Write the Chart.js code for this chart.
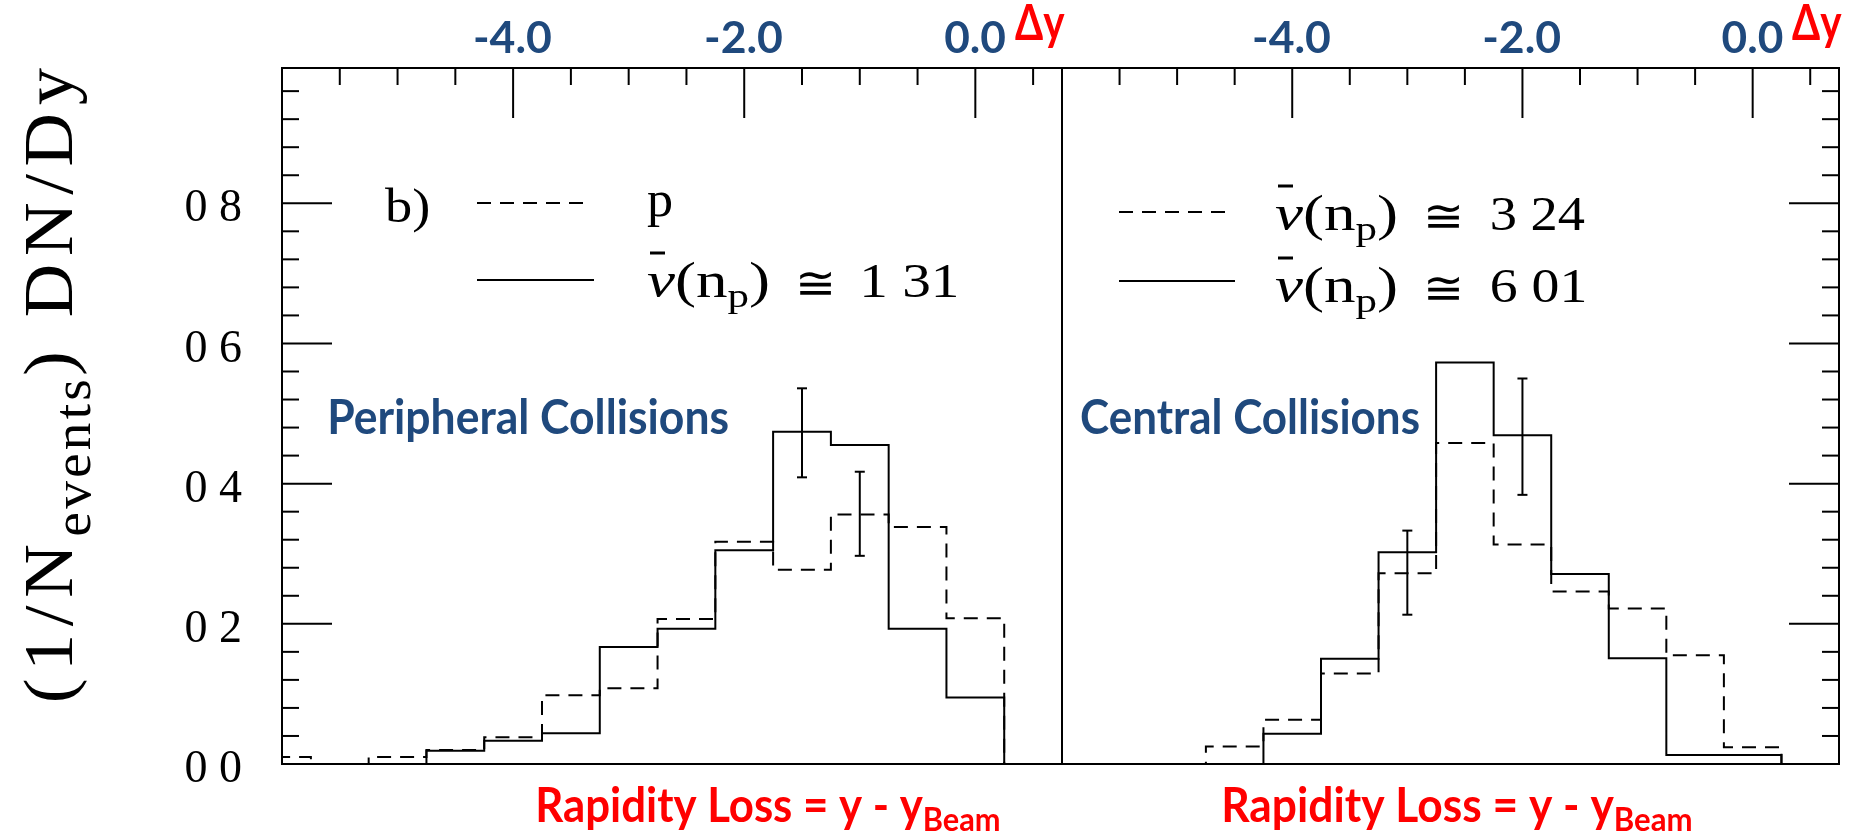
<!DOCTYPE html>
<html>
<head>
<meta charset="utf-8">
<script src="https://cdn.jsdelivr.net/npm/chart.js@4.4.1/dist/chart.umd.min.js"></script>
<style>
  html, body { margin: 0; padding: 0; background: #fff; }
  #wrap { position: relative; width: 1854px; height: 835px; overflow: hidden; background: #fff; }
  #wrap canvas { position: absolute; left: 0; top: 0; }
</style>
</head>
<body>
<div id="wrap">
  <canvas id="peripheral" width="1854" height="835"></canvas>
  <canvas id="central" width="1854" height="835"></canvas>
</div>
<script>
// Rapidity-loss bins (bin centres, Δy) shared by both panels
const binCenters = [-6.0, -5.5, -5.0, -4.5, -4.0, -3.5, -3.0, -2.5, -2.0, -1.5, -1.0, -0.5, 0.0];
const binWidth = 0.5;

// Peripheral collisions: protons (dashed) and ν̄(n_p) ≅ 1.31 (solid)
const peripheralProton = [0.010, 0.000, 0.010, 0.020, 0.038, 0.098, 0.108, 0.207, 0.317, 0.277, 0.356, 0.338, 0.208];
const peripheralNu131  = [0.000, 0.000, 0.000, 0.019, 0.033, 0.044, 0.167, 0.193, 0.305, 0.474, 0.455, 0.193, 0.095];

// Central collisions: ν̄(n_p) ≅ 3.24 (dashed) and ν̄(n_p) ≅ 6.01 (solid)
const centralNu324 = [0.000, 0.000, 0.000, 0.025, 0.063, 0.129, 0.272, 0.458, 0.313, 0.246, 0.222, 0.155, 0.024];
const centralNu601 = [0.000, 0.000, 0.000, 0.000, 0.043, 0.150, 0.302, 0.573, 0.469, 0.271, 0.151, 0.013, 0.013];

// Error bars (Δy position, lower and upper ends)
const peripheralErrX    = [-1.5, -1.0];
const peripheralErrLow  = [0.409, 0.297];
const peripheralErrHigh = [0.536, 0.417];
const centralErrX    = [-3.0, -2.0];
const centralErrLow  = [0.213, 0.384];
const centralErrHigh = [0.333, 0.550];

// Axes
const xMin = -6.0, xMax = 0.75;
const yMin = 0.0, yMax = 0.993;
const topTickValues = [-4.0, -2.0, 0.0];
const topTickLabels = ['-4.0', '-2.0', '0.0'];
const yTickValues = [0.0, 0.2, 0.4, 0.6, 0.8];
const yTickLabels = ['0 0', '0 2', '0 4', '0 6', '0 8'];
const xMinorStep = 0.5;
const yMinorStep = 0.04;
const yMajorStep = 0.2;

const BLUE = '#1F497D';
const RED = '#FF0000';
const SERIF = '"Liberation Serif", "DejaVu Serif", serif';
const SANS = 'Lato, "Open Sans", sans-serif';
const DASH = [14, 9];

// Histogram outline: rise at the first bin's low edge, step at every edge, drop after the last bin
function histogramOutline(values) {
  const pts = [{ x: binCenters[0] - binWidth / 2, y: 0 }];
  values.forEach((v, i) => pts.push({ x: binCenters[i] - binWidth / 2, y: v }));
  pts.push({ x: binCenters[binCenters.length - 1] + binWidth / 2, y: 0 });
  return pts;
}

function histDataset(label, values, dashed) {
  return {
    label,
    data: histogramOutline(values),
    stepped: 'before',
    borderColor: '#000',
    borderWidth: 2,
    borderDash: dashed ? DASH : [],
    pointRadius: 0,
    fill: false,
    tension: 0
  };
}

// Draw text runs stretched so that their ink spans [inkL, inkR] on the given baseline
function fitRuns(ctx, runs, inkL, inkR, baseline, color) {
  ctx.save();
  let adv = 0;
  const m = runs.map(r => {
    ctx.font = r.font;
    ctx.letterSpacing = r.ls || '0px';
    const mm = ctx.measureText(r.t);
    const o = { r, mm, x: adv };
    adv += mm.width;
    return o;
  });
  const first = m[0], last = m[m.length - 1];
  const left = first.x - first.mm.actualBoundingBoxLeft;
  const right = last.x + last.mm.actualBoundingBoxRight;
  const sx = (inkR - inkL) / (right - left);
  ctx.translate(inkL, baseline);
  ctx.scale(sx, 1);
  ctx.translate(-left, 0);
  ctx.fillStyle = color;
  ctx.textAlign = 'left';
  ctx.textBaseline = 'alphabetic';
  m.forEach(o => {
    ctx.font = o.r.font;
    ctx.letterSpacing = o.r.ls || '0px';
    ctx.fillText(o.r.t, o.x, o.r.dy || 0);
  });
  ctx.restore();
}

function strokeLine(ctx, x1, y1, x2, y2, dash, width) {
  ctx.save();
  ctx.strokeStyle = '#000';
  ctx.lineWidth = width || 2;
  ctx.setLineDash(dash || []);
  ctx.beginPath();
  ctx.moveTo(x1, y1);
  ctx.lineTo(x2, y2);
  ctx.stroke();
  ctx.restore();
}

// Frame with inward ticks along the top axis and one vertical side
const panelFrame = {
  id: 'panelFrame',
  afterDatasetsDraw(chart, args, opts) {
    const ctx = chart.ctx, a = chart.chartArea;
    const xs = chart.scales.x, ys = chart.scales.y;
    ctx.save();
    ctx.strokeStyle = '#000';
    ctx.lineWidth = 2;
    ctx.strokeRect(a.left, a.top, a.right - a.left, a.bottom - a.top);
    ctx.restore();
    for (let k = 1; ; k++) {
      const v = xMin + k * xMinorStep;
      if (v >= xMax - 1e-9) break;
      const px = xs.getPixelForValue(v);
      const major = topTickValues.some(t => Math.abs(t - v) < 1e-9);
      strokeLine(ctx, px, a.top, px, a.top + (major ? 50 : 17));
    }
    for (let k = 1; ; k++) {
      const v = k * yMinorStep;
      if (v >= yMax - 1e-9) break;
      const py = ys.getPixelForValue(v);
      const r = v / yMajorStep;
      const len = Math.abs(r - Math.round(r)) < 1e-6 ? 50 : 17;
      if (opts.side === 'left') strokeLine(ctx, a.left, py, a.left + len, py);
      else strokeLine(ctx, a.right, py, a.right - len, py);
    }
    // Blue Δy labels over the top axis, red axis name next to them
    topTickValues.forEach((v, i) => {
      const px = xs.getPixelForValue(v);
      ctx.save();
      ctx.font = 'bold 44px ' + SANS;
      const w = ctx.measureText(topTickLabels[i]).width * 0.98;
      ctx.restore();
      fitRuns(ctx, [{ t: topTickLabels[i], font: 'bold 44px ' + SANS }], px - w / 2, px + w / 2, 53, BLUE);
    });
    const dyRight = a.right + 3;
    fitRuns(ctx, [{ t: 'Δy', font: 'bold 50px ' + SANS }], dyRight - 50, dyRight, 40, RED);
  }
};

// Vertical error bars with short caps
const errorBars = {
  id: 'errorBars',
  afterDatasetsDraw(chart, args, opts) {
    const ctx = chart.ctx, xs = chart.scales.x, ys = chart.scales.y;
    opts.x.forEach((xv, i) => {
      const px = xs.getPixelForValue(xv);
      const pLo = ys.getPixelForValue(opts.low[i]);
      const pHi = ys.getPixelForValue(opts.high[i]);
      strokeLine(ctx, px, pLo, px, pHi);
      strokeLine(ctx, px - 5, pLo, px + 5, pLo);
      strokeLine(ctx, px - 5, pHi, px + 5, pHi);
    });
  }
};

// ν̄(n_p) ≅ value legend entry
function nuEntry(ctx, x, baseline, value) {
  fitRuns(ctx, [
    { t: 'ν', font: 'italic 50px ' + SERIF },
    { t: '(n', font: '50px ' + SERIF },
    { t: 'p', font: '34px ' + SERIF, dy: 10 },
    { t: ')', font: '50px ' + SERIF }
  ], x, x + 121, baseline, '#000');
  strokeLine(ctx, x + 3, baseline - 44, x + 18, baseline - 44, [], 3);
  fitRuns(ctx, [{ t: '≅', font: '46px ' + SERIF, dy: 2 }], x + 152, x + 184, baseline, '#000');
  fitRuns(ctx, [{ t: value, font: '48px ' + SERIF }], x + 217, x + 310, baseline, '#000');
}

const peripheralText = {
  id: 'peripheralText',
  afterDraw(chart) {
    const ctx = chart.ctx;
    // y-axis title, reading upwards
    ctx.save();
    ctx.translate(72, 700);
    ctx.rotate(-Math.PI / 2);
    fitRuns(ctx, [
      { t: '(1/N', font: '70px ' + SERIF, ls: '7px' },
      { t: 'events', font: '52px ' + SERIF, dy: 18, ls: '3px' },
      { t: ') DN/Dy', font: '70px ' + SERIF, ls: '7px' }
    ], 0, 632, 0, '#000');
    ctx.restore();
    // legend
    fitRuns(ctx, [{ t: 'b)', font: '48px ' + SERIF }], 385, 428, 222, '#000');
    strokeLine(ctx, 477, 203, 584, 203, DASH);
    fitRuns(ctx, [{ t: 'p', font: '50px ' + SERIF }], 647, 672, 216, '#000');
    strokeLine(ctx, 477, 280, 594, 280);
    nuEntry(ctx, 647, 297, '1 31');
    // annotations
    fitRuns(ctx, [{ t: 'Peripheral Collisions', font: 'bold 48px ' + SANS }], 330, 728, 434, BLUE);
    fitRuns(ctx, [
      { t: 'Rapidity Loss = y - y', font: 'bold 47px ' + SANS },
      { t: 'Beam', font: 'bold 33px ' + SANS, dy: 9 }
    ], 538, 999, 822, RED);
  }
};

const centralText = {
  id: 'centralText',
  afterDraw(chart) {
    const ctx = chart.ctx;
    strokeLine(ctx, 1119, 212, 1232, 212, DASH);
    nuEntry(ctx, 1275, 230, '3 24');
    strokeLine(ctx, 1119, 281, 1235, 281);
    nuEntry(ctx, 1275, 302, '6 01');
    fitRuns(ctx, [{ t: 'Central Collisions', font: 'bold 48px ' + SANS }], 1081, 1419, 434, BLUE);
    fitRuns(ctx, [
      { t: 'Rapidity Loss = y - y', font: 'bold 47px ' + SANS },
      { t: 'Beam', font: 'bold 33px ' + SANS, dy: 9 }
    ], 1224, 1691, 822, RED);
  }
};

function baseOptions(padding) {
  return {
    responsive: false,
    animation: false,
    events: [],
    layout: { padding },
    plugins: { legend: { display: false }, tooltip: { enabled: false } },
    scales: {
      x: { type: 'linear', min: xMin, max: xMax, display: false },
      y: { type: 'linear', min: yMin, max: yMax, display: false }
    }
  };
}

// Left panel: peripheral collisions, with the shared y axis labels
const leftOptions = baseOptions({ left: 0, top: 68, right: 792, bottom: 71 });
leftOptions.scales.y = {
  type: 'linear', min: yMin, max: yMax, position: 'left',
  afterFit(scale) { scale.width = 282; },
  afterBuildTicks(scale) { scale.ticks = yTickValues.map(v => ({ value: v })); },
  grid: { display: false, drawTicks: false },
  border: { display: false },
  ticks: {
    padding: 40,
    labelOffset: 6,
    color: '#000',
    font: { family: '"Liberation Serif"', size: 46 },
    callback: (v, i) => yTickLabels[i]
  }
};
leftOptions.plugins.panelFrame = { side: 'left' };
leftOptions.plugins.errorBars = { x: peripheralErrX, low: peripheralErrLow, high: peripheralErrHigh };

new Chart(document.getElementById('peripheral'), {
  type: 'line',
  data: {
    datasets: [
      histDataset('p', peripheralProton, true),
      histDataset('ν̄(n_p) ≅ 1 31', peripheralNu131, false)
    ]
  },
  options: leftOptions,
  plugins: [panelFrame, errorBars, peripheralText]
});

// Right panel: central collisions
const rightOptions = baseOptions({ left: 1062, top: 68, right: 15, bottom: 71 });
rightOptions.plugins.panelFrame = { side: 'right' };
rightOptions.plugins.errorBars = { x: centralErrX, low: centralErrLow, high: centralErrHigh };

new Chart(document.getElementById('central'), {
  type: 'line',
  data: {
    datasets: [
      histDataset('ν̄(n_p) ≅ 3 24', centralNu324, true),
      histDataset('ν̄(n_p) ≅ 6 01', centralNu601, false)
    ]
  },
  options: rightOptions,
  plugins: [panelFrame, errorBars, centralText]
});
</script>
</body>
</html>
